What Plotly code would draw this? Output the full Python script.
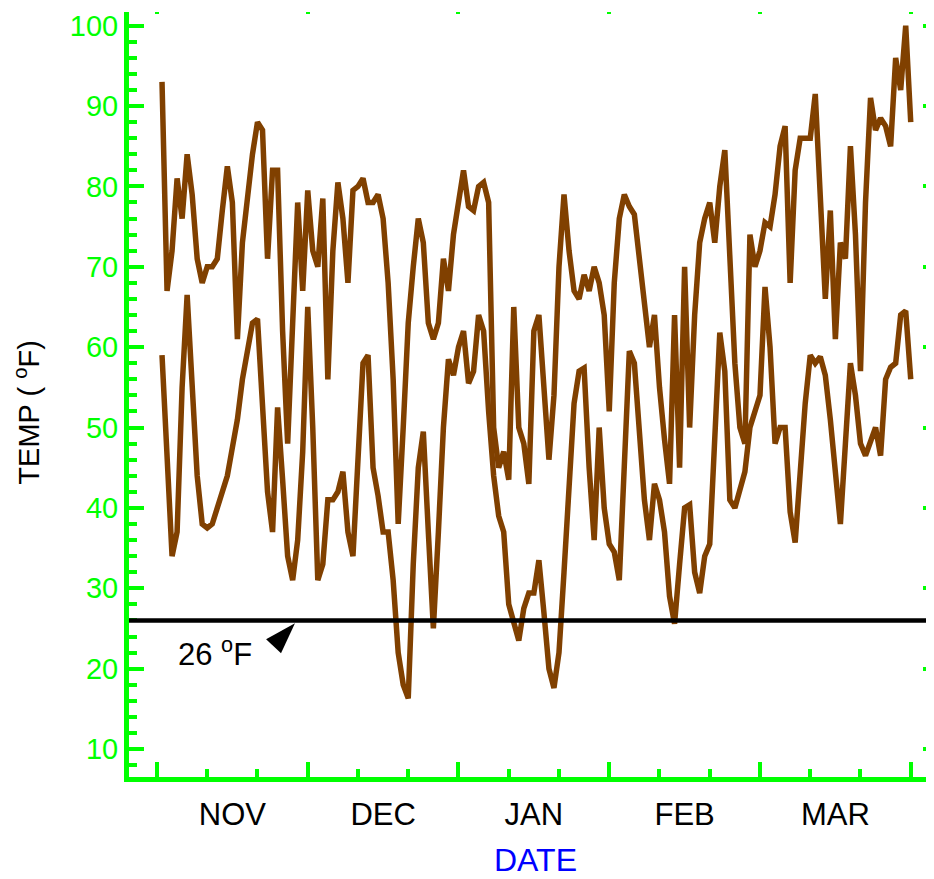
import plotly.graph_objects as go

# ---- data ----
days = list(range(1, 151))
tmax = [93, 67, 72, 81, 76, 84, 79, 71, 68, 70,
        70, 71, 77, 82.5, 78, 61, 73, 79, 84, 88,
        87, 71, 82, 82, 62, 48, 64, 78, 67, 79.5,
        72, 70, 78.5, 56, 72, 80.5, 76, 68, 79.5, 80,
        81, 78, 78, 79, 76, 68, 56, 38, 50, 63,
        70, 76, 73, 63, 61, 63, 71, 67, 74, 78,
        82, 77.5, 77, 80, 80.5, 78, 50, 45, 47, 43.5,
        65, 50, 48, 43, 62, 64, 55, 46, 54, 70,
        79, 72, 67, 66, 69, 67, 70, 68, 64, 52,
        68, 76, 79, 77.5, 76.5, 71, 65, 60, 64, 55,
        48.5, 43, 64, 45, 70, 50, 64, 73, 76, 78,
        73, 80, 84.5, 72, 58, 50, 48, 74, 70, 72,
        75.5, 75, 79, 85, 87.5, 68, 82, 86, 86, 86,
        91.5, 78, 66, 77, 61, 73, 71, 85, 74, 57,
        78, 91, 87, 88.5, 87.5, 85, 96, 92, 100, 88]
tmin = [59, 45, 34, 37, 55, 66.5, 55, 44, 38, 37.5,
        38, 40, 42, 44, 47.5, 51, 56, 60, 63, 63.5,
        52, 42, 37, 52.5, 43.5, 34, 31, 36, 47, 65,
        50, 31, 33, 41, 41, 42, 44.5, 37, 34, 45,
        58, 59, 45, 41.5, 37, 37, 31, 22, 18, 16.3,
        33, 45, 49.5, 37, 25, 37, 50, 58.5, 56.5, 60,
        62, 55.5, 57, 64, 62, 52, 44, 39, 37, 28,
        26, 23.5, 27.5, 29.4, 29.4, 33.5, 27, 20, 17.6, 22,
        32, 44, 53, 57, 57.4, 45, 36, 50, 40, 35.5,
        34.5, 31, 47, 59.5, 58, 50, 41, 36, 43, 41,
        37, 29, 25.6, 33, 40, 40.4, 32, 29.4, 34, 35.5,
        48, 61.8, 57, 41, 40, 42.5, 44.5, 50, 51.9, 54,
        67.5, 60, 48, 50, 50, 39.5, 35.7, 44, 53, 59,
        58, 58.8, 56.5, 51, 44, 38, 48, 58, 54, 48,
        46.5, 48.5, 50, 46.5, 56, 57.5, 58, 64, 64.5, 56]
months = ["NOV", "DEC", "JAN", "FEB", "MAR"]
threshold = 26
threshold_label = "26 <sup>o</sup>F"
y_title = "TEMP ( <sup>o</sup>F)"
x_title = "DATE"

# ---- styling / layout constants ----
MONTH_DAYS = 30
major_ticks = [i * MONTH_DAYS for i in range(len(months) + 1)]
label_ticks = [i * MONTH_DAYS + MONTH_DAYS / 2 for i in range(len(months))]
GREEN = "#00ff00"
BROWN = "rgb(128,64,0)"
FONT = "Liberation Sans, Arial, sans-serif"
X_RANGE = [-5.57, 154.63]
Y_RANGE = [6.52, 101.70]
ARROW_DAY = 28.0

fig = go.Figure()
fig.add_trace(go.Scatter(x=days, y=tmax, mode="lines", xaxis="x", yaxis="y",
                         line=dict(color=BROWN, width=5.5), showlegend=False))
fig.add_trace(go.Scatter(x=days, y=tmin, mode="lines", xaxis="x2", yaxis="y",
                         line=dict(color=BROWN, width=5.5), showlegend=False))
# arrow pointing at the threshold line
fig.add_trace(go.Scatter(x=[ARROW_DAY], y=[threshold], mode="markers", xaxis="x3", yaxis="y2",
                         marker=dict(symbol="arrow", angle=43, size=33, color="black",
                                     standoff=4, line=dict(width=0)),
                         cliponaxis=False, showlegend=False, hoverinfo="skip"))

fig.add_shape(type="line", xref="paper", x0=0, x1=1, yref="y", y0=threshold, y1=threshold,
              line=dict(color="black", width=4.5), layer="above")

fig.add_annotation(x=11.5, y=22.1, xref="x", yref="y", text=threshold_label,
                   showarrow=False, font=dict(family=FONT, size=31, color="black"))

fig.add_annotation(x=-0.127, y=0.476, xref="paper", yref="paper", text=y_title,
                   textangle=-90, xanchor="center", yanchor="middle", showarrow=False,
                   font=dict(family=FONT, size=29, color="black"))

fig.add_annotation(x=0.505, y=-0.083, xref="paper", yref="paper", text=x_title,
                   xanchor="center", yanchor="top", showarrow=False,
                   font=dict(family=FONT, size=32, color="blue"))

fig.update_layout(
    width=926, height=871,
    margin=dict(l=121, r=0, t=4, b=102),
    paper_bgcolor="white", plot_bgcolor="white",
    font=dict(family=FONT),
    showlegend=False,
    xaxis=dict(
        range=X_RANGE, showgrid=False, zeroline=False,
        showline=True, linecolor=GREEN, linewidth=5,
        ticks="inside", tickvals=major_ticks, ticklen=15, tickwidth=4, tickcolor=GREEN,
        showticklabels=False,
        minor=dict(ticks="inside", dtick=10, tick0=0, ticklen=8, tickwidth=4, tickcolor=GREEN),
    ),
    xaxis2=dict(
        overlaying="x", matches="x", anchor="y", side="bottom",
        showgrid=False, zeroline=False, showline=False,
        ticks="", tickvals=label_ticks, ticktext=months,
        tickfont=dict(family=FONT, size=31, color="black"),
        ticklabelstandoff=16,
    ),
    xaxis3=dict(
        overlaying="x", matches="x", anchor="y", side="top",
        showgrid=False, zeroline=False, showline=False,
        ticks="inside", tickvals=major_ticks, ticklen=2, tickwidth=4, tickcolor=GREEN,
        showticklabels=False,
    ),
    yaxis=dict(
        range=Y_RANGE, showgrid=False, zeroline=False,
        showline=True, linecolor=GREEN, linewidth=5,
        ticks="inside", tick0=0, dtick=10, ticklen=15, tickwidth=4, tickcolor=GREEN,
        tickfont=dict(family=FONT, size=29, color=GREEN),
        minor=dict(ticks="inside", dtick=2, tick0=0, ticklen=8, tickwidth=4, tickcolor=GREEN),
    ),
    yaxis2=dict(
        overlaying="y", matches="y", anchor="x", side="right",
        showgrid=False, zeroline=False, showline=False,
        ticks="inside", tick0=0, dtick=10, ticklen=11, tickwidth=4, tickcolor=GREEN,
        showticklabels=False,
        minor=dict(ticks="inside", dtick=2, tick0=0, ticklen=3, tickwidth=4, tickcolor=GREEN),
    ),
)

fig.write_html("out.html")
